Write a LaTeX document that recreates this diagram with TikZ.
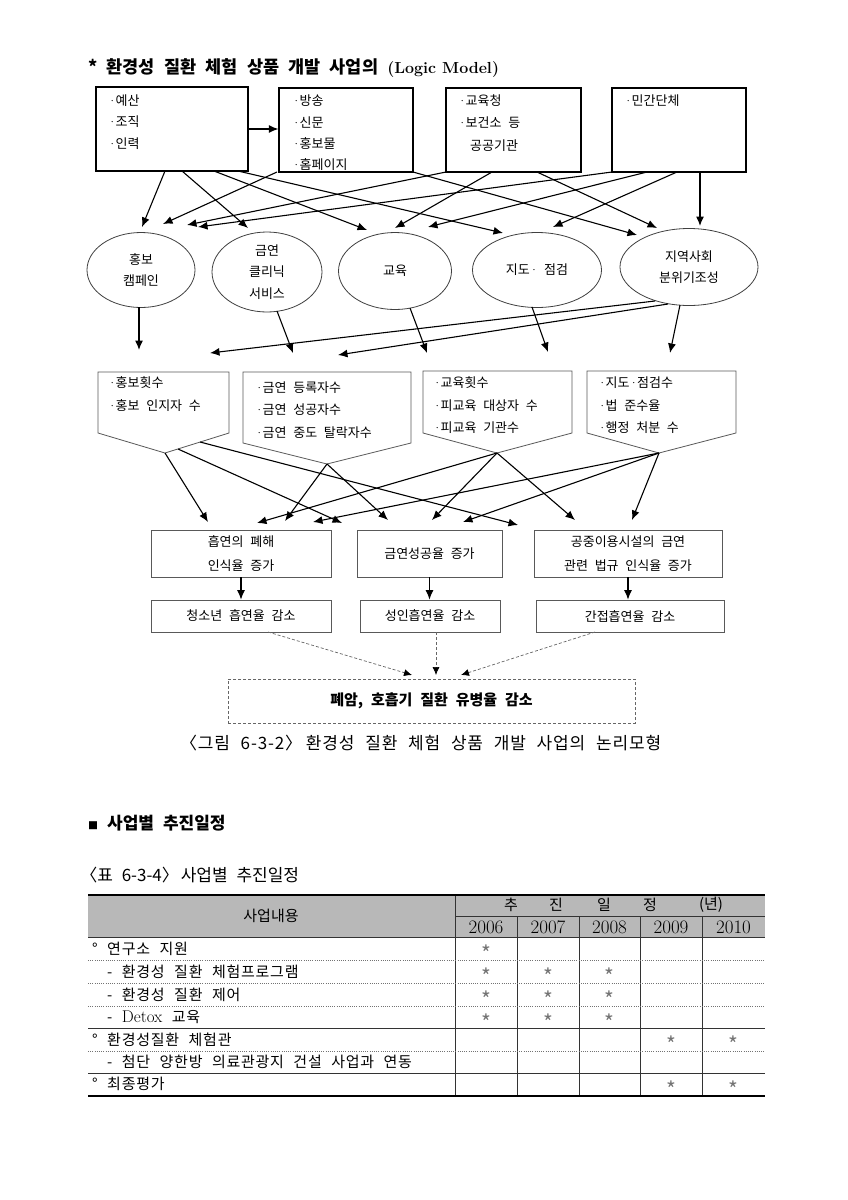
\documentclass[tikz,border=0pt]{standalone}
\usepackage{fontspec}
\newfontfamily\kr{Noto Sans CJK KR}[WordSpace=2.3]
\newfontfamily\krw{Noto Sans CJK KR}[WordSpace=2.3,LetterSpace=5]
\newcommand{\md}{\kern-0.8pt{\rmfamily\char"00B7}\kern-1.6pt}
\usetikzlibrary{arrows.meta,shapes.geometric}
\tikzset{
  lbl/.style={font=\kr\fontsize{13}{22}\selectfont, inner sep=0pt, anchor=west},
  topbox/.style={draw=black, line width=1.3pt, inner sep=0pt},
  ell/.style={ellipse, draw=black!75, line width=0.8pt, inner sep=0pt, align=center, font=\kr\fontsize{13}{21.5}\selectfont},
  pent/.style={draw=black!65, line width=0.8pt},
  gbox/.style={draw=black!65, line width=0.8pt, inner sep=0pt, align=center, font=\kr\fontsize{13}{24}\selectfont},
  arr/.style={-{Latex[length=9.5pt,width=8pt]}, line width=1.1pt, black},
  darr/.style={-{Latex[length=8pt,width=7pt,color=black]}, line width=0.7pt, black!60, dash pattern=on 3pt off 2pt},
  fbox/.style={draw=black!60, line width=0.7pt, dash pattern=on 3pt off 2pt, inner sep=0pt, font=\kr\bfseries\fontsize{15}{18}\selectfont},
  tline/.style={black!80, line width=0.7pt},
  dotline/.style={black!55, line width=0.6pt, dash pattern=on 1pt off 1.2pt},
  ttxt/.style={font=\krw\fontsize{15}{18}\selectfont, inner sep=0pt, anchor=west},
  hd/.style={font=\kr\fontsize{15}{18}\selectfont, inner sep=0pt},
  yr/.style={font=\rmfamily\fontsize{19}{20}\selectfont, inner sep=0pt},
  star/.style={font=\kr\fontsize{21}{21}\selectfont, text=black!55, inner sep=0pt, yshift=-5pt},
}
\begin{document}
\begin{tikzpicture}[x=1pt,y=-1pt]
\useasboundingbox (0,0) rectangle (847,1200);
\fill[white] (0,0) rectangle (847,1200);

% title
\node[anchor=west, inner sep=0pt, font=\kr\bfseries\fontsize{17.5}{20}\selectfont] (title) at (88,68) {* 환경성 질환 체험 상품 개발 사업의 {\rmfamily\bfseries\fontsize{16}{18}\selectfont (Logic Model)}};

% top boxes
\node[topbox, minimum width=152pt, minimum height=84pt] (b1) at (172,129) {};
\node[topbox, minimum width=134pt, minimum height=84pt] (b2) at (346,130) {};
\node[topbox, minimum width=135pt, minimum height=84pt] (b3) at (513.5,130) {};
\node[topbox, minimum width=134pt, minimum height=84pt] (b4) at (679,130) {};

\node[lbl] (b1a) at (108,101) {\md 예산};
\node[lbl] (b1b) at (108,122) {\md 조직};
\node[lbl] (b1c) at (108,144) {\md 인력};
\node[lbl] (b2a) at (292,101) {\md 방송};
\node[lbl] (b2b) at (292,123) {\md 신문};
\node[lbl] (b2c) at (292,144) {\md 홍보물};
\node[lbl] (b2d) at (292,165) {\md 홈페이지};
\node[lbl] (b3a) at (458,101) {\md 교육청};
\node[lbl] (b3b) at (458,123) {\md 보건소 등};
\node[lbl] (b3c) at (470,146) {공공기관};
\node[lbl] (b4a) at (624,101) {\md 민간단체};

\draw[arr] (b1.east) -- (b2.west |- b1.east);

% ellipses
\node[ell, minimum width=108pt, minimum height=75pt] (e1) at (141,270) {홍보\\캠페인};
\node[ell, minimum width=110pt, minimum height=80pt] (e2) at (267,272) {금연\\클리닉\\서비스};
\node[ell, minimum width=113pt, minimum height=77pt] (e3) at (395,271) {교육};
\node[ell, minimum width=129pt, minimum height=75pt] (e4) at (537,270) {지도\md\ 점검};
\node[ell, minimum width=138pt, minimum height=77pt] (e5) at (689,267) {지역사회\\분위기조성};

% top arrows
\coordinate (s1a) at (165,171); \coordinate (t1a) at (142,227);
\coordinate (s1b) at (182,171); \coordinate (t1b) at (248,228);
\coordinate (s1c) at (214,171); \coordinate (t1c) at (367,230);
\coordinate (s1d) at (238,171); \coordinate (t1d) at (503,233);
\coordinate (s2a) at (277,172); \coordinate (t2a) at (163,224);
\coordinate (s2b) at (413,172); \coordinate (t2b) at (637,235);
\coordinate (s3a) at (446,172); \coordinate (t3a) at (187,225);
\coordinate (s3b) at (492,172); \coordinate (t3b) at (395,228);
\coordinate (s3c) at (537,172); \coordinate (t3c) at (657,228);
\coordinate (s4a) at (612,172); \coordinate (t4a) at (198,227);
\coordinate (s4b) at (647,172); \coordinate (t4b) at (428,227);
\coordinate (s4c) at (677,172); \coordinate (t4c) at (553,227);
\coordinate (s4d) at (700,172); \coordinate (t4d) at (700,226);
\foreach \a in {1a,1b,1c,1d,2a,2b,3a,3b,3c,4a,4b,4c,4d}
  \draw[arr] (s\a) -- (t\a);

% middle arrows
\coordinate (m1s) at (139,307); \coordinate (m1t) at (139,350);
\coordinate (m2s) at (277,311); \coordinate (m2t) at (293,353);
\coordinate (m3s) at (410,308); \coordinate (m3t) at (427,353);
\coordinate (m4s) at (532,307); \coordinate (m4t) at (548,352);
\coordinate (m5s) at (680,305); \coordinate (m5t) at (670,353);
\coordinate (m6s) at (655,301); \coordinate (m6t) at (210,353);
\coordinate (m7s) at (668,304); \coordinate (m7t) at (338,355);
\foreach \a in {1,...,7}
  \draw[arr] (m\a s) -- (m\a t);

% pentagons
\draw[pent] (98,372) -- (229,372) -- (229,433) -- (165,453) coordinate (p1tip) -- (98,433) -- cycle;
\draw[pent] (243,372) -- (411,372) -- (411,443) -- (327,464) coordinate (p2tip) -- (243,443) -- cycle;
\draw[pent] (423,371) -- (572,371) -- (572,433) -- (497,453) coordinate (p3tip) -- (423,433) -- cycle;
\draw[pent] (587,371) -- (736,371) -- (736,433) -- (659,453) coordinate (p4tip) -- (587,433) -- cycle;

\node[lbl] (p1a) at (108,383) {\md 홍보횟수};
\node[lbl] (p1b) at (108,406) {\md 홍보 인지자 수};
\node[lbl] (p2a) at (255,388) {\md 금연 등록자수};
\node[lbl] (p2b) at (255,410) {\md 금연 성공자수};
\node[lbl] (p2c) at (255,433) {\md 금연 중도 탈락자수};
\node[lbl] (p3a) at (433,383) {\md 교육횟수};
\node[lbl] (p3b) at (433,406) {\md 피교육 대상자 수};
\node[lbl] (p3c) at (433,428) {\md 피교육 기관수};
\node[lbl] (p4a) at (598,383) {\md 지도\md 점검수};
\node[lbl] (p4b) at (598,406) {\md 법 준수율};
\node[lbl] (p4c) at (598,428) {\md 행정 처분 수};

% arrows to outcomes
\coordinate (q1b) at (178,449);
\coordinate (q1c) at (200,442);
\coordinate (u1) at (208,522);
\coordinate (u2) at (342,523);
\coordinate (u3) at (518,525);
\coordinate (u4) at (285,521);
\coordinate (u5) at (388,520);
\coordinate (u6) at (257,523);
\coordinate (u7) at (432,520);
\coordinate (u8) at (575,520);
\coordinate (u9) at (313,522);
\coordinate (u10) at (463,522);
\coordinate (u11) at (632,520);
\draw[arr] (p1tip) -- (u1);
\draw[arr] (q1b) -- (u2);
\draw[arr] (q1c) -- (u3);
\draw[arr] (p2tip) -- (u4);
\draw[arr] (p2tip) -- (u5);
\draw[arr] (p3tip) -- (u6);
\draw[arr] (p3tip) -- (u7);
\draw[arr] (p3tip) -- (u8);
\draw[arr] (p4tip) -- (u9);
\draw[arr] (p4tip) -- (u10);
\draw[arr] (p4tip) -- (u11);

% outcome boxes
\node[gbox, minimum width=180pt, minimum height=47pt] (o1) at (241,553.5) {흡연의 폐해\\인식율 증가};
\node[gbox, minimum width=145pt, minimum height=47pt] (o2) at (429.5,553.5) {금연성공율 증가};
\node[gbox, minimum width=188pt, minimum height=47pt] (o3) at (628,553.5) {공중이용시설의 금연\\관련 법규 인식율 증가};
\node[gbox, minimum width=180pt, minimum height=32pt] (r1) at (241,616) {청소년 흡연율 감소};
\node[gbox, minimum width=140pt, minimum height=32pt] (r2) at (430,616) {성인흡연율 감소};
\node[gbox, minimum width=188pt, minimum height=32pt] (r3) at (630,616) {간접흡연율 감소};
\draw[arr] (o1.south) -- (r1.north -| o1.south);
\draw[arr] (o2.south) -- (r2.north -| o2.south);
\draw[arr] (o3.south) -- (r3.north -| o3.south);

% final
\node[fbox, minimum width=407pt, minimum height=44pt] (fin) at (431.5,701) {폐암, 호흡기 질환 유병율 감소};
\coordinate (d1s) at (268,632); \coordinate (d1t) at (412,675);
\coordinate (d2s) at (436,632); \coordinate (d2t) at (436,675);
\coordinate (d3s) at (595,632); \coordinate (d3t) at (461,675);
\draw[darr] (d1s) -- (d1t);
\draw[darr] (d2s) -- (d2t);
\draw[darr] (d3s) -- (d3t);

\node[inner sep=0pt, font=\krw\fontsize{17}{19}\selectfont] (cap) at (424,743) {\kern-0.4em〈그림 6-3-2〉\kern-0.4em\ 환경성 질환 체험 상품 개발 사업의 논리모형};

% section
\node[anchor=west, inner sep=0pt, font=\kr\bfseries\fontsize{17}{19}\selectfont] (sec) at (88,823) {{\fontsize{10}{10}\selectfont ■} 사업별 추진일정};
\node[anchor=west, inner sep=0pt, font=\kr\fontsize{17}{19}\selectfont] (tcap) at (87,875) {\kern-0.4em〈표 6-3-4〉\kern-0.4em\ 사업별 추진일정};

% table
\fill[black!28] (88,895) rectangle (765,937);
\draw[tline] (455,895) -- (455,1096);
\foreach \x in {517,579,640,702} \draw[tline] (\x,916) -- (\x,1096);
\draw[tline] (455,916) -- (765,916);
\draw[tline] (88,937) -- (765,937);
\foreach \y in {960,983,1006,1051} \draw[dotline] (88,\y) -- (765,\y);
\foreach \y in {1028,1073} \draw[tline] (88,\y) -- (765,\y);
\draw[line width=2.2pt] (88,895) -- (765,895);
\draw[line width=2.2pt] (88,1096) -- (765,1096);

\node[hd] (h0) at (271,916) {사업내용};
\node[hd] (h1) at (511,905) {추};
\node[hd] (h2) at (556,905) {진};
\node[hd] (h3) at (604,905) {일};
\node[hd] (h4) at (650,905) {정};
\node[hd] (h5) at (711,905) {(년)};
\node[yr] (y1) at (486,927) {2006};
\node[yr] (y2) at (548,927) {2007};
\node[yr] (y3) at (609.5,927) {2008};
\node[yr] (y4) at (671,927) {2009};
\node[yr] (y5) at (733.5,927) {2010};

\node[ttxt] (c1) at (92,948.5) {° 연구소 지원};
\node[ttxt] (c2) at (107,971.5) {- 환경성 질환 체험프로그램};
\node[ttxt] (c3) at (107,994.5) {- 환경성 질환 제어};
\node[ttxt] (c4) at (107,1017) {- {\rmfamily\fontsize{17}{18}\selectfont Detox} 교육};
\node[ttxt] (c5) at (92,1039.5) {° 환경성질환 체험관};
\node[ttxt] (c6) at (107,1062) {- 첨단 양한방 의료관광지 건설 사업과 연동};
\node[ttxt] (c7) at (92,1084) {° 최종평가};

\node[star] (st1) at (486,948.5) {*};
\node[star] (st2) at (486,971.5) {*};
\node[star] (st3) at (548,971.5) {*};
\node[star] (st4) at (609.5,971.5) {*};
\node[star] (st5) at (486,994.5) {*};
\node[star] (st6) at (548,994.5) {*};
\node[star] (st7) at (609.5,994.5) {*};
\node[star] (st8) at (486,1017) {*};
\node[star] (st9) at (548,1017) {*};
\node[star] (st10) at (609.5,1017) {*};
\node[star] (st11) at (671,1039.5) {*};
\node[star] (st12) at (733.5,1039.5) {*};
\node[star] (st13) at (671,1084) {*};
\node[star] (st14) at (733.5,1084) {*};
\end{tikzpicture}
\end{document}
